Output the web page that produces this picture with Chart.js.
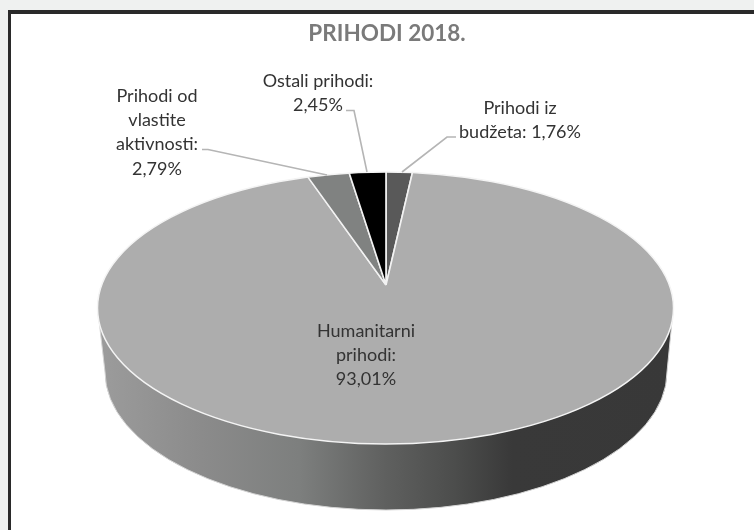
<!DOCTYPE html>
<html>
<head>
<meta charset="utf-8">
<script src="https://cdn.jsdelivr.net/npm/chart.js@4"></script>
<style>
html, body { margin: 0; padding: 0; background: #eff1f0; overflow: hidden; }
#frame { position: absolute; left: 8px; top: 10px; width: 746px; height: 520px; box-sizing: border-box;
         background: #fff; border-left: 3px solid #2a2a2a; border-top: 4px solid #2a2a2a; }
canvas { position: absolute; left: 0; top: 0; }
</style>
</head>
<body>
<div id="frame"></div>
<canvas id="pieChart" width="754" height="530"></canvas>
<script>
// same order as the slices go round, clockwise from 12 o'clock
const categories = ['Prihodi iz budžeta', 'Humanitarni prihodi', 'Prihodi od vlastite aktivnosti', 'Ostali prihodi'];
const values = [1.76, 93.01, 2.79, 2.45];
const sliceColors = ['#595959', '#adadad', '#808281', '#000000'];
const valueLabels = ['1,76%', '93,01%', '2,79%', '2,45%'];
const chartTitle = 'PRIHODI 2018.';

// label lines for each slice, split as in the picture
const labelLines = [
    ['Prihodi iz', 'budžeta: ' + valueLabels[0]],
    ['Humanitarni', 'prihodi:', valueLabels[1]],
    ['Prihodi od', 'vlastite', 'aktivnosti:', valueLabels[2]],
    ['Ostali prihodi:', valueLabels[3]]
];
const labelAnchors = [[520, 108], [366, 331], [157, 96], [318, 81]];
const lineHeight = 24.3;
const leaders = [
    [[456, 137], [447, 137], [402, 172]],
    null,
    [[202, 149.5], [208, 149.5], [327, 175]],
    [[346, 110.5], [354, 110.5], [367, 172]]
];

// the tilted disc: top ellipse, bottom ellipse, and the slices' apex (off centre like in the 3D original)
const topE = { x: 385.5, y: 308, rx: 288, ry: 136 };
const botE = { x: 386, y: 372, rx: 281, ry: 138 };
const apex = { x: 386, y: 285 };

const discPlugin = {
    id: 'disc',
    beforeDatasetsDraw(chart) {
        const ctx = chart.ctx;
        // side wall
        const wall = ctx.createLinearGradient(topE.x - topE.rx, 0, topE.x + topE.rx, 0);
        wall.addColorStop(0, '#9c9c9c');
        wall.addColorStop(0.18, '#8b8b8b');
        wall.addColorStop(0.35, '#7d7f7e');
        wall.addColorStop(0.5, '#5f605f');
        wall.addColorStop(0.62, '#4c4d4c');
        wall.addColorStop(0.72, '#393939');
        wall.addColorStop(1, '#383838');
        ctx.save();
        ctx.beginPath();
        ctx.ellipse(botE.x, botE.y, botE.rx, botE.ry, 0, 0, Math.PI);
        ctx.lineTo(topE.x - topE.rx + 1, topE.y + 8);
        ctx.lineTo(topE.x + topE.rx - 1, topE.y + 8);
        ctx.closePath();
        ctx.fillStyle = wall;
        ctx.fill();
        ctx.strokeStyle = '#d4d4d4';
        ctx.lineWidth = 1;
        ctx.stroke();
        ctx.restore();

        // slices: squash the pie and cut it with the top ellipse
        const arc = chart.getDatasetMeta(0).data[0];
        const k = 190 / arc.outerRadius;
        ctx.save();
        ctx.beginPath();
        ctx.ellipse(topE.x, topE.y, topE.rx, topE.ry, 0, 0, Math.PI * 2);
        ctx.clip();
        ctx.translate(apex.x, apex.y);
        ctx.scale(k * topE.rx / topE.ry, k);
        ctx.translate(-arc.x, -arc.y);
    },
    afterDatasetsDraw(chart) {
        const ctx = chart.ctx;
        ctx.restore();

        ctx.beginPath();
        ctx.ellipse(topE.x, topE.y, topE.rx, topE.ry, 0, 0, Math.PI * 2);
        ctx.strokeStyle = '#f4f4f4';
        ctx.lineWidth = 1.5;
        ctx.stroke();

        ctx.strokeStyle = '#b5b5b5';
        ctx.lineWidth = 1.6;
        leaders.forEach(pts => {
            if (!pts) return;
            ctx.beginPath();
            pts.forEach((p, i) => i ? ctx.lineTo(p[0], p[1]) : ctx.moveTo(p[0], p[1]));
            ctx.stroke();
        });

        ctx.fillStyle = '#333333';
        ctx.font = '18px Lato';
        ctx.textAlign = 'center';
        ctx.textBaseline = 'middle';
        labelLines.forEach((lines, i) => {
            lines.forEach((line, j) => {
                ctx.fillText(line, labelAnchors[i][0], labelAnchors[i][1] + j * lineHeight);
            });
        });
    }
};

new Chart(document.getElementById('pieChart').getContext('2d'), {
    type: 'pie',
    data: {
        labels: categories,
        datasets: [{
            data: values,
            backgroundColor: sliceColors,
            borderColor: '#f2f2f2',
            borderWidth: 1,
            clip: false
        }]
    },
    options: {
        responsive: false,
        animation: false,
        events: [],
        layout: { padding: { left: 20, top: 20 } },
        plugins: {
            legend: { display: false },
            tooltip: { enabled: false },
            title: {
                display: true,
                text: chartTitle,
                color: '#7a7a7a',
                font: { family: 'Lato', size: 22.5, weight: 'bold' },
                padding: { top: 0, bottom: 0 }
            }
        }
    },
    plugins: [discPlugin]
});
</script>
</body>
</html>
